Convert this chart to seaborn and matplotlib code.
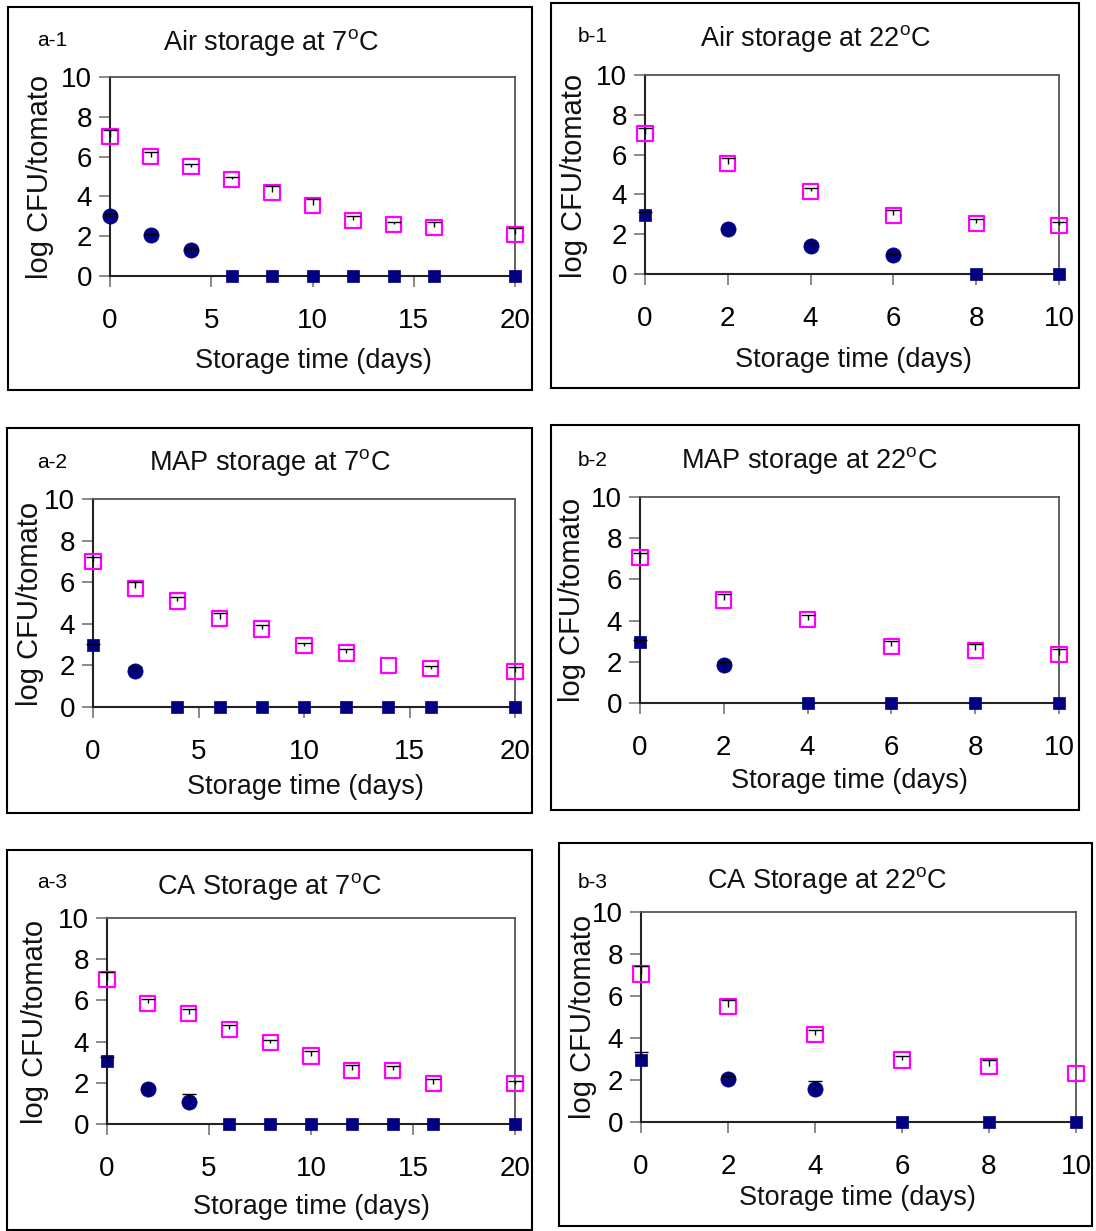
import numpy as np
import pandas as pd
import matplotlib
matplotlib.use("Agg")
import matplotlib.pyplot as plt
from matplotlib.patches import Rectangle
import seaborn as sns

# ---------------- data ----------------
days_7 = [0, 2, 4, 6, 8, 10, 12, 14, 16, 20]
days_22 = [0, 2, 4, 6, 8, 10]

air7_pink = [7.0, 6.0, 5.5, 4.85, 4.2, 3.55, 2.8, 2.6, 2.45, 2.1]
air7_pink_up = [7.35, 6.25, 5.65, 4.95, 4.5, 3.85, 3.0, 2.7, 2.7, 2.4]
air7_dark = [3.0, 2.05, 1.3, 0, 0, 0, 0, 0, 0, 0]
air7_dark_up = [3.1, 2.1, 1.4, 0, 0, 0, 0, 0, 0, 0]

air22_pink = [7.05, 5.55, 4.15, 2.95, 2.55, 2.45]
air22_pink_up = [7.35, 5.85, 4.3, 3.2, 2.75, 2.6]
air22_dark = [2.95, 2.25, 1.4, 0.95, 0, 0]
air22_dark_up = [3.1, 2.25, 1.55, 1.0, 0, 0]

map7_pink = [7.0, 5.7, 5.1, 4.25, 3.75, 2.95, 2.6, 2.0, 1.85, 1.7]
map7_pink_up = [7.2, 6.0, 5.3, 4.5, 3.95, 3.1, 2.8, 2.0, 1.95, 1.9]
map7_dark = [3.0, 1.75, 0, 0, 0, 0, 0, 0, 0, 0]
map7_dark_up = [3.05, 1.9, 0, 0, 0, 0, 0, 0, 0, 0]

map22_pink = [7.05, 5.0, 4.05, 2.75, 2.55, 2.35]
map22_pink_up = [7.3, 5.3, 4.25, 3.0, 2.85, 2.6]
map22_dark = [2.95, 1.85, 0, 0, 0, 0]
map22_dark_up = [3.05, 2.0, 0, 0, 0, 0]

ca7_pink = [7.0, 5.85, 5.35, 4.6, 3.95, 3.3, 2.6, 2.6, 1.95, 1.95]
ca7_pink_up = [7.4, 6.05, 5.6, 4.8, 4.1, 3.55, 2.85, 2.8, 2.2, 2.1]
ca7_dark = [3.05, 1.7, 1.05, 0, 0, 0, 0, 0, 0, 0]
ca7_dark_up = [3.25, 1.8, 1.45, 0, 0, 0, 0, 0, 0, 0]

ca22_pink = [7.05, 5.5, 4.15, 2.95, 2.65, 2.3]
ca22_pink_up = [7.45, 5.8, 4.4, 3.15, 2.95, 2.3]
ca22_dark = [2.95, 2.05, 1.55, 0, 0, 0]
ca22_dark_up = [3.35, 2.2, 1.95, 0, 0, 0]

panel_ids = ["a-1", "b-1", "a-2", "b-2", "a-3", "b-3"]
panel_titles = ["Air storage at 7$^{\\mathrm{o}}$C", "Air storage at 22$^{\\mathrm{o}}$C",
                "MAP storage at 7$^{\\mathrm{o}}$C", "MAP storage at 22$^{\\mathrm{o}}$C",
                "CA Storage at 7$^{\\mathrm{o}}$C", "CA Storage at 22$^{\\mathrm{o}}$C"]
day0_dark_shape = ["circle", "square", "square", "square", "square", "square"]
x_label = "Storage time (days)"
y_label = "log CFU/tomato"
xticks_7 = [0, 5, 10, 15, 20]
xticks_22 = [0, 2, 4, 6, 8, 10]
yticks = [0, 2, 4, 6, 8, 10]

series = [
    (days_7, air7_pink, air7_pink_up, air7_dark, air7_dark_up),
    (days_22, air22_pink, air22_pink_up, air22_dark, air22_dark_up),
    (days_7, map7_pink, map7_pink_up, map7_dark, map7_dark_up),
    (days_22, map22_pink, map22_pink_up, map22_dark, map22_dark_up),
    (days_7, ca7_pink, ca7_pink_up, ca7_dark, ca7_dark_up),
    (days_22, ca22_pink, ca22_pink_up, ca22_dark, ca22_dark_up),
]

# ---------------- layout (pixels) ----------------
W, H = 1096, 1231
axes_px = [
    (110, 515, 77, 276),
    (645, 1059, 75, 274),
    (93, 515, 499, 707),
    (640, 1059, 497, 703),
    (107, 515, 918, 1124),
    (641, 1076, 912, 1122),
]
box_px = [
    (8, 532, 7, 390),
    (551, 1079, 3, 388),
    (7, 532, 428, 813),
    (551, 1079, 425, 810),
    (7, 532, 850, 1230),
    (559, 1092, 843, 1226),
]
title_px = [(271, 42), (816, 38), (270, 462), (809, 460), (270, 886), (827, 880)]
tag_px = [(37, 41), (578, 37), (37, 463), (578, 460), (37, 883), (578, 882)]
xlab_px = [(313, 361), (853, 360), (305, 787), (849, 781), (311, 1207), (857, 1198)]
ylab_px = [(40, 177), (574, 176), (30, 604), (572, 600), (35, 1022), (583, 1017)]

sns.set_theme(style="white")
FONTS = ["Liberation Sans", "DejaVu Sans"]
plt.rcParams["font.family"] = FONTS
plt.rcParams["mathtext.fontset"] = "custom"
plt.rcParams["mathtext.rm"] = "Liberation Sans"
plt.rcParams["mathtext.it"] = "Liberation Sans"

fig = plt.figure(figsize=(W / 100, H / 100), dpi=100)
fig.patch.set_facecolor("white")

PINK = "#FF00FF"
NAVY = "#000080"
FS = 19.5
YFS = 21
TFS = 20


def fx(x):
    return x / W


def fy(y):
    return 1 - y / H


for i in range(6):
    days, pink, pink_up, dark, dark_up = series[i]
    x0, x1, yt, yb = axes_px[i]
    ax = fig.add_axes([fx(x0), fy(yb), (x1 - x0) / W, (yb - yt) / H])
    ax.set_facecolor("white")

    bx0, bx1, byt, byb = box_px[i]
    fig.patches.append(Rectangle((fx(bx0), fy(byb)), (bx1 - bx0) / W, (byb - byt) / H,
                                 transform=fig.transFigure, fill=False,
                                 edgecolor="black", linewidth=1.5, zorder=0))

    df_p = pd.DataFrame({"day": days, "val": pink, "up": pink_up})
    shapes = []
    for j, (d, v) in enumerate(zip(days, dark)):
        if j == 0:
            shapes.append(day0_dark_shape[i])
        else:
            shapes.append("circle" if v > 0 else "square")
    df_d = pd.DataFrame({"day": days, "val": dark, "up": dark_up, "shape": shapes})

    xmax = days[-1]
    ax.set_xlim(0, xmax)
    ax.set_ylim(0, 10)

    dc = df_d[df_d["shape"] == "circle"]
    ds = df_d[df_d["shape"] == "square"]
    if len(dc):
        sns.scatterplot(data=dc, x="day", y="val", marker="o", s=120, color=NAVY,
                        edgecolor=NAVY, linewidth=0.5, ax=ax, clip_on=False, zorder=4, legend=False)
    if len(ds):
        sns.scatterplot(data=ds, x="day", y="val", marker="s", s=75, color=NAVY,
                        edgecolor=NAVY, linewidth=0.5, ax=ax, clip_on=False, zorder=4, legend=False)
    sns.scatterplot(data=df_p, x="day", y="val", marker="s", s=120, facecolor="none",
                    edgecolor=PINK, linewidth=1.6, ax=ax, clip_on=False, zorder=4, legend=False)

    for df in (df_p, df_d):
        e = df["up"] - df["val"]
        m = e > 0.01
        if m.any():
            vals = df["val"][m].to_numpy()
            cont = ax.errorbar(df["day"][m], vals,
                               yerr=[np.zeros(m.sum()), e[m]], fmt="none",
                               ecolor="black", elinewidth=1.0, capsize=5, capthick=1.0,
                               zorder=5, clip_on=False)
            # keep only the upper caps
            for cl in cont[1]:
                if np.allclose(np.asarray(cl.get_ydata(), float), vals):
                    cl.set_visible(False)

    ax.set_xticks(xticks_7 if xmax == 20 else xticks_22)
    ax.set_yticks(yticks)
    ax.tick_params(axis="x", direction="out", length=8, width=1.2, color="#777777",
                   pad=15, labelsize=TFS, labelcolor="black", bottom=True)
    ax.tick_params(axis="y", direction="out", length=8, width=1.2, color="#777777",
                   pad=5, labelsize=TFS, labelcolor="black", left=True)
    for side in ("left", "bottom"):
        ax.spines[side].set_color("#222222")
        ax.spines[side].set_linewidth(1.5)
    for side in ("top", "right"):
        ax.spines[side].set_color("#555555")
        ax.spines[side].set_linewidth(1.3)
    ax.grid(False)

    ax.set_xlabel(x_label, fontsize=FS, color="#111111", va="center")
    ax.xaxis.set_label_coords(fx(xlab_px[i][0]), fy(xlab_px[i][1]), transform=fig.transFigure)
    ax.set_ylabel(y_label, fontsize=YFS, color="#111111", va="center")
    ax.yaxis.set_label_coords(fx(ylab_px[i][0]), fy(ylab_px[i][1]), transform=fig.transFigure)

    fig.text(fx(title_px[i][0]), fy(title_px[i][1]), panel_titles[i], fontsize=FS,
             ha="center", va="center", color="#111111")
    fig.text(fx(tag_px[i][0]), fy(tag_px[i][1]), panel_ids[i], fontsize=15,
             ha="left", va="center", color="black")

fig.savefig("out.png", dpi=100, facecolor="white")
